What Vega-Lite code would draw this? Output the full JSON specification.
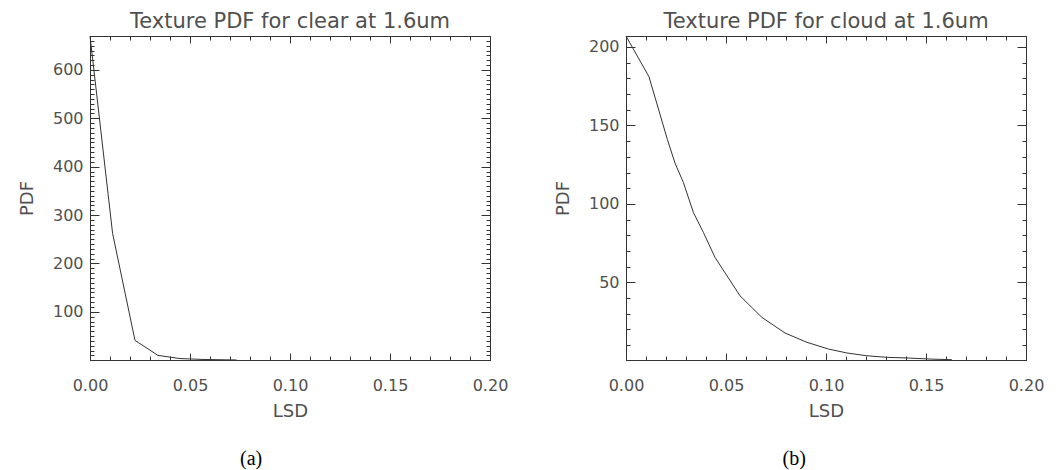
{
  "$schema": "https://vega.github.io/schema/vega-lite/v6.json",
  "background": "white",
  "padding": {"left": 18, "top": 11, "right": 4, "bottom": 2},
  "spacing": 46,
  "config": {
    "view": {"stroke": null},
    "axis": {
      "grid": false,
      "domainColor": "#333",
      "tickColor": "#333",
      "labelColor": "#505050",
      "titleColor": "#505050",
      "labelFont": "DejaVu Sans",
      "titleFont": "DejaVu Sans",
      "labelFontSize": 16,
      "titleFontSize": 18,
      "titleFontWeight": "normal",
      "labelFlush": false,
      "labelOverlap": false
    },
    "title": {"font": "DejaVu Sans", "fontSize": 21, "fontWeight": "normal", "color": "#505050"},
    "line": {"color": "#333", "strokeWidth": 1}
  },
  "hconcat": [
    {
      "title": {"text": "(a)", "orient": "bottom", "anchor": "middle", "font": "Liberation Serif", "fontSize": 20, "color": "#000", "offset": 29, "dx": -12},
      "vconcat": [
        {
          "title": {"text": "Texture PDF for clear at 1.6um", "frame": "group", "anchor": "middle", "offset": 2},
          "width": 400,
          "height": 324,
          "data": {"values": [
            {"LSD": 0.0, "PDF": 670},
            {"LSD": 0.0113, "PDF": 262},
            {"LSD": 0.0225, "PDF": 41},
            {"LSD": 0.034, "PDF": 10},
            {"LSD": 0.045, "PDF": 3.5},
            {"LSD": 0.0565, "PDF": 1.6},
            {"LSD": 0.0678, "PDF": 0.9},
            {"LSD": 0.0733, "PDF": 0.6}
          ]},
          "resolve": {"axis": {"x": "independent", "y": "independent"}},
          "layer": [
            {
              "mark": "line",
              "encoding": {
                "x": {"field": "LSD", "type": "quantitative", "scale": {"domain": [0, 0.2], "nice": false, "zero": false},
                      "axis": {"orient": "bottom", "values": [0, 0.05, 0.1, 0.15, 0.2], "format": ".2f", "title": "LSD", "tickSize": -7, "labelPadding": 24, "titlePadding": 9}},
                "y": {"field": "PDF", "type": "quantitative", "scale": {"domain": [0.5, 670], "nice": false, "zero": false},
                      "axis": {"orient": "left", "values": [100, 200, 300, 400, 500, 600], "title": "PDF", "tickSize": -9, "labelPadding": 16, "titlePadding": 16}}
              }
            },
            {
              "mark": {"type": "line", "strokeOpacity": 0},
              "encoding": {
                "x": {"field": "LSD", "type": "quantitative",
                      "axis": {"orient": "bottom", "values": [0.01, 0.02, 0.03, 0.04, 0.06, 0.07, 0.08, 0.09, 0.11, 0.12, 0.13, 0.14, 0.16, 0.17, 0.18, 0.19], "labels": false, "title": null, "tickSize": -4}},
                "y": {"field": "PDF", "type": "quantitative",
                      "axis": {"orient": "left", "values": [10, 20, 30, 40, 50, 60, 70, 80, 90, 110, 120, 130, 140, 150, 160, 170, 180, 190, 210, 220, 230, 240, 250, 260, 270, 280, 290, 310, 320, 330, 340, 350, 360, 370, 380, 390, 410, 420, 430, 440, 450, 460, 470, 480, 490, 510, 520, 530, 540, 550, 560, 570, 580, 590, 610, 620, 630, 640, 650, 660], "labels": false, "title": null, "tickSize": -4}}
              }
            },
            {
              "mark": {"type": "line", "strokeOpacity": 0},
              "encoding": {
                "x": {"field": "LSD", "type": "quantitative",
                      "axis": {"orient": "top", "values": [0, 0.05, 0.1, 0.15, 0.2], "labels": false, "title": null, "tickSize": -7}},
                "y": {"field": "PDF", "type": "quantitative",
                      "axis": {"orient": "right", "values": [100, 200, 300, 400, 500, 600], "labels": false, "title": null, "tickSize": -9}}
              }
            },
            {
              "mark": {"type": "line", "strokeOpacity": 0},
              "encoding": {
                "x": {"field": "LSD", "type": "quantitative",
                      "axis": {"orient": "top", "values": [0.01, 0.02, 0.03, 0.04, 0.06, 0.07, 0.08, 0.09, 0.11, 0.12, 0.13, 0.14, 0.16, 0.17, 0.18, 0.19], "labels": false, "title": null, "tickSize": -4}},
                "y": {"field": "PDF", "type": "quantitative",
                      "axis": {"orient": "right", "values": [10, 20, 30, 40, 50, 60, 70, 80, 90, 110, 120, 130, 140, 150, 160, 170, 180, 190, 210, 220, 230, 240, 250, 260, 270, 280, 290, 310, 320, 330, 340, 350, 360, 370, 380, 390, 410, 420, 430, 440, 450, 460, 470, 480, 490, 510, 520, 530, 540, 550, 560, 570, 580, 590, 610, 620, 630, 640, 650, 660], "labels": false, "title": null, "tickSize": -4}}
              }
            }
          ]
        }
      ]
    },
    {
      "title": {"text": "(b)", "orient": "bottom", "anchor": "middle", "font": "Liberation Serif", "fontSize": 20, "color": "#000", "offset": 29, "dx": -5},
      "vconcat": [
        {
          "title": {"text": "Texture PDF for cloud at 1.6um", "frame": "group", "anchor": "middle", "offset": 2},
          "width": 400,
          "height": 324,
          "data": {"values": [
            {"LSD": 0.0, "PDF": 207},
            {"LSD": 0.0115, "PDF": 181},
            {"LSD": 0.0207, "PDF": 141},
            {"LSD": 0.0245, "PDF": 126},
            {"LSD": 0.0287, "PDF": 113.6},
            {"LSD": 0.0337, "PDF": 94.5},
            {"LSD": 0.0387, "PDF": 81.8},
            {"LSD": 0.0445, "PDF": 65.9},
            {"LSD": 0.057, "PDF": 41.4},
            {"LSD": 0.0679, "PDF": 27.7},
            {"LSD": 0.0795, "PDF": 17.7},
            {"LSD": 0.0904, "PDF": 11.8},
            {"LSD": 0.1012, "PDF": 7.5},
            {"LSD": 0.1104, "PDF": 5.0},
            {"LSD": 0.1204, "PDF": 3.2},
            {"LSD": 0.1304, "PDF": 2.2},
            {"LSD": 0.1404, "PDF": 1.8},
            {"LSD": 0.152, "PDF": 1.1},
            {"LSD": 0.1629, "PDF": 0.7}
          ]},
          "resolve": {"axis": {"x": "independent", "y": "independent"}},
          "layer": [
            {
              "mark": "line",
              "encoding": {
                "x": {"field": "LSD", "type": "quantitative", "scale": {"domain": [0, 0.2], "nice": false, "zero": false},
                      "axis": {"orient": "bottom", "values": [0, 0.05, 0.1, 0.15, 0.2], "format": ".2f", "title": "LSD", "tickSize": -7, "labelPadding": 24, "titlePadding": 9}},
                "y": {"field": "PDF", "type": "quantitative", "scale": {"domain": [0.5, 207], "nice": false, "zero": false},
                      "axis": {"orient": "left", "values": [50, 100, 150, 200], "title": "PDF", "tickSize": -9, "labelPadding": 16, "titlePadding": 16}}
              }
            },
            {
              "mark": {"type": "line", "strokeOpacity": 0},
              "encoding": {
                "x": {"field": "LSD", "type": "quantitative",
                      "axis": {"orient": "bottom", "values": [0.01, 0.02, 0.03, 0.04, 0.06, 0.07, 0.08, 0.09, 0.11, 0.12, 0.13, 0.14, 0.16, 0.17, 0.18, 0.19], "labels": false, "title": null, "tickSize": -4}},
                "y": {"field": "PDF", "type": "quantitative",
                      "axis": {"orient": "left", "values": [10, 20, 30, 40, 60, 70, 80, 90, 110, 120, 130, 140, 160, 170, 180, 190], "labels": false, "title": null, "tickSize": -4}}
              }
            },
            {
              "mark": {"type": "line", "strokeOpacity": 0},
              "encoding": {
                "x": {"field": "LSD", "type": "quantitative",
                      "axis": {"orient": "top", "values": [0, 0.05, 0.1, 0.15, 0.2], "labels": false, "title": null, "tickSize": -7}},
                "y": {"field": "PDF", "type": "quantitative",
                      "axis": {"orient": "right", "values": [50, 100, 150, 200], "labels": false, "title": null, "tickSize": -9}}
              }
            },
            {
              "mark": {"type": "line", "strokeOpacity": 0},
              "encoding": {
                "x": {"field": "LSD", "type": "quantitative",
                      "axis": {"orient": "top", "values": [0.01, 0.02, 0.03, 0.04, 0.06, 0.07, 0.08, 0.09, 0.11, 0.12, 0.13, 0.14, 0.16, 0.17, 0.18, 0.19], "labels": false, "title": null, "tickSize": -4}},
                "y": {"field": "PDF", "type": "quantitative",
                      "axis": {"orient": "right", "values": [10, 20, 30, 40, 60, 70, 80, 90, 110, 120, 130, 140, 160, 170, 180, 190], "labels": false, "title": null, "tickSize": -4}}
              }
            }
          ]
        }
      ]
    }
  ]
}
